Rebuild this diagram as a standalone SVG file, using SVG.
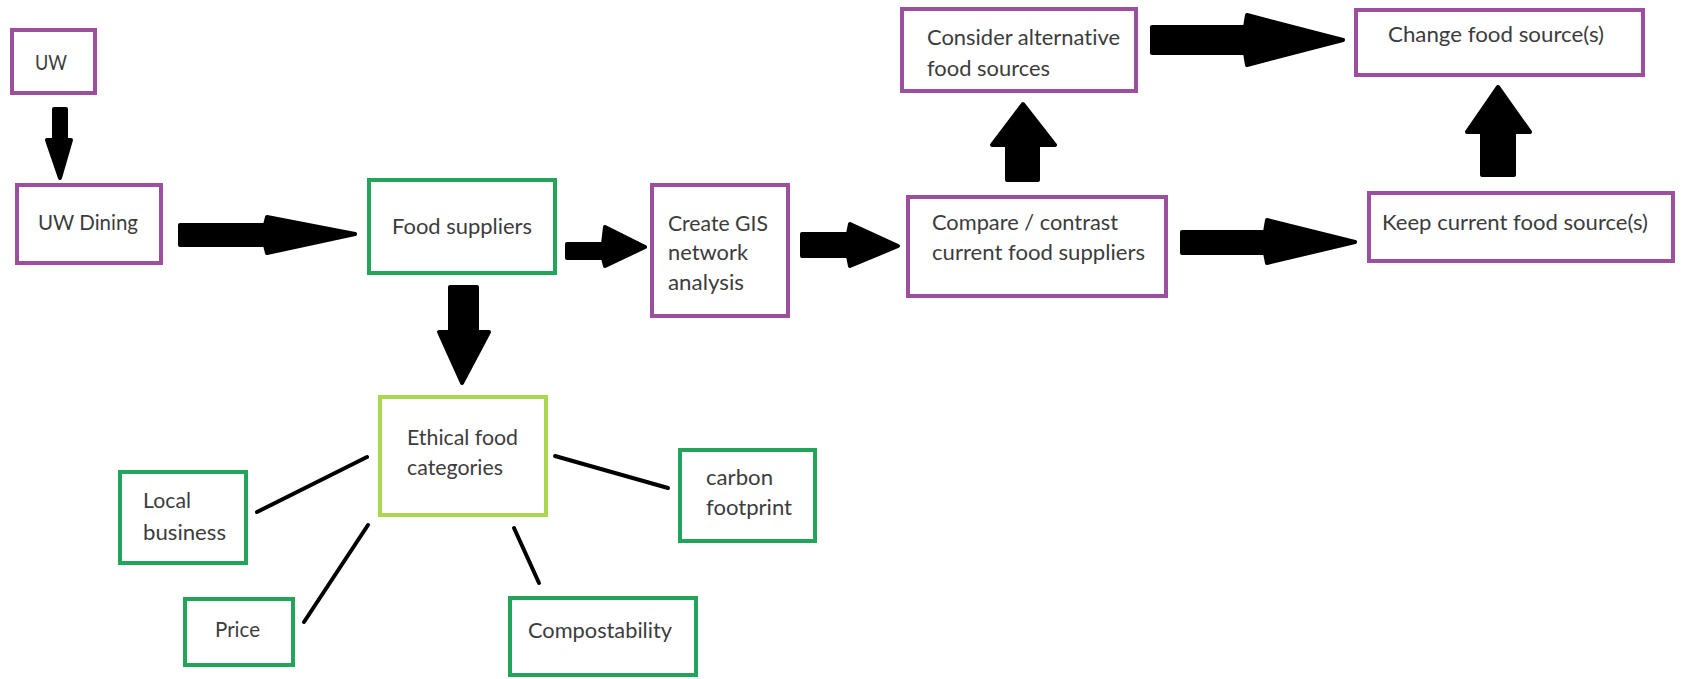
<svg xmlns="http://www.w3.org/2000/svg" width="1682" height="679" viewBox="0 0 1682 679">
<style>
.p{fill:#fff;stroke:#9d4f9f;stroke-width:4}
.g{fill:#fff;stroke:#22a55a;stroke-width:4}
.lg{fill:#fff;stroke:#a9d84f;stroke-width:4}
text{font-family:Lato,"Open Sans","Liberation Sans",sans-serif;font-size:20.5px;fill:#3c3c3c;font-variant-ligatures:none}
.arr{fill:#000;stroke:#000;stroke-width:4;stroke-linejoin:round}
.ln{stroke:#000;stroke-width:4;stroke-linecap:round;fill:none}
</style>
<rect width="1682" height="679" fill="#fff"/>
<g id="connectors">
<path class="arr" d="M54,109 L66,109 L66,140 L71,140 L60,178 L47,140 L54,140 Z"/>
<path class="arr" d="M180,225 L265,225 L267,217 L355,234 L267,253 L265,245 L180,245 Z"/>
<path class="arr" d="M567,244 L603,244 L605,227 L645,247 L605,266 L603,258 L567,258 Z"/>
<path class="arr" d="M802,234 L848,234 L850,224 L898,246 L850,266 L848,256 L802,256 Z"/>
<path class="arr" d="M1007,180 L1007,145 L992,145 L1023,104 L1055,145 L1038,145 L1038,180 Z"/>
<path class="arr" d="M1152,27 L1245,27 L1247,15 L1343,40 L1247,65 L1245,53 L1152,53 Z"/>
<path class="arr" d="M1182,232 L1265,232 L1267,220 L1355,242 L1267,263 L1265,253 L1182,253 Z"/>
<path class="arr" d="M1482,175 L1482,132 L1467,132 L1498,87 L1530,132 L1514,132 L1514,175 Z"/>
<path class="arr" d="M450,287 L477,287 L477,332 L489,332 L462,383 L439,332 L450,332 Z"/>
<line class="ln" x1="257" y1="512" x2="367" y2="457"/>
<line class="ln" x1="304" y1="622" x2="368" y2="525"/>
<line class="ln" x1="555" y1="456" x2="668" y2="488"/>
<line class="ln" x1="514" y1="528" x2="539" y2="583"/>
</g>
<g id="uw"><rect class="p" x="12" y="30" width="83" height="63"/><text x="35" y="70" textLength="32" lengthAdjust="spacingAndGlyphs">UW</text></g>
<g id="uw-dining"><rect class="p" x="17" y="185" width="144" height="78"/><text x="38" y="230" textLength="100" lengthAdjust="spacingAndGlyphs">UW Dining</text></g>
<g id="food-suppliers"><rect class="g" x="369" y="180" width="186" height="93"/><text x="392" y="234" textLength="140" lengthAdjust="spacingAndGlyphs">Food suppliers</text></g>
<g id="gis"><rect class="p" x="652" y="185" width="136" height="131"/><text x="668" y="231" textLength="100" lengthAdjust="spacingAndGlyphs">Create GIS</text><text x="668" y="260" textLength="80" lengthAdjust="spacingAndGlyphs">network</text><text x="668" y="290" textLength="76" lengthAdjust="spacingAndGlyphs">analysis</text></g>
<g id="consider"><rect class="p" x="902" y="9" width="234" height="82"/><text x="927" y="45" textLength="193" lengthAdjust="spacingAndGlyphs">Consider alternative</text><text x="927" y="76" textLength="123" lengthAdjust="spacingAndGlyphs">food sources</text></g>
<g id="compare"><rect class="p" x="908" y="197" width="258" height="99"/><text x="932" y="230" textLength="186" lengthAdjust="spacingAndGlyphs">Compare / contrast</text><text x="932" y="260" textLength="213" lengthAdjust="spacingAndGlyphs">current food suppliers</text></g>
<g id="change"><rect class="p" x="1356" y="10" width="287" height="65"/><text x="1388" y="42" textLength="216" lengthAdjust="spacingAndGlyphs">Change food source(s)</text></g>
<g id="keep"><rect class="p" x="1369" y="193" width="304" height="68"/><text x="1382" y="230" textLength="266" lengthAdjust="spacingAndGlyphs">Keep current food source(s)</text></g>
<g id="ethical"><rect class="lg" x="380" y="397" width="166" height="118"/><text x="407" y="445" textLength="111" lengthAdjust="spacingAndGlyphs">Ethical food</text><text x="407" y="475" textLength="96" lengthAdjust="spacingAndGlyphs">categories</text></g>
<g id="local"><rect class="g" x="120" y="472" width="126" height="91"/><text x="143" y="508" textLength="48" lengthAdjust="spacingAndGlyphs">Local</text><text x="143" y="540" textLength="83" lengthAdjust="spacingAndGlyphs">business</text></g>
<g id="price"><rect class="g" x="185" y="599" width="108" height="66"/><text x="215" y="637" textLength="45" lengthAdjust="spacingAndGlyphs">Price</text></g>
<g id="carbon"><rect class="g" x="680" y="450" width="135" height="91"/><text x="706" y="485" textLength="67" lengthAdjust="spacingAndGlyphs">carbon</text><text x="706" y="515" textLength="86" lengthAdjust="spacingAndGlyphs">footprint</text></g>
<g id="compost"><rect class="g" x="510" y="598" width="186" height="77"/><text x="528" y="638" textLength="144" lengthAdjust="spacingAndGlyphs">Compostability</text></g>
</svg>
